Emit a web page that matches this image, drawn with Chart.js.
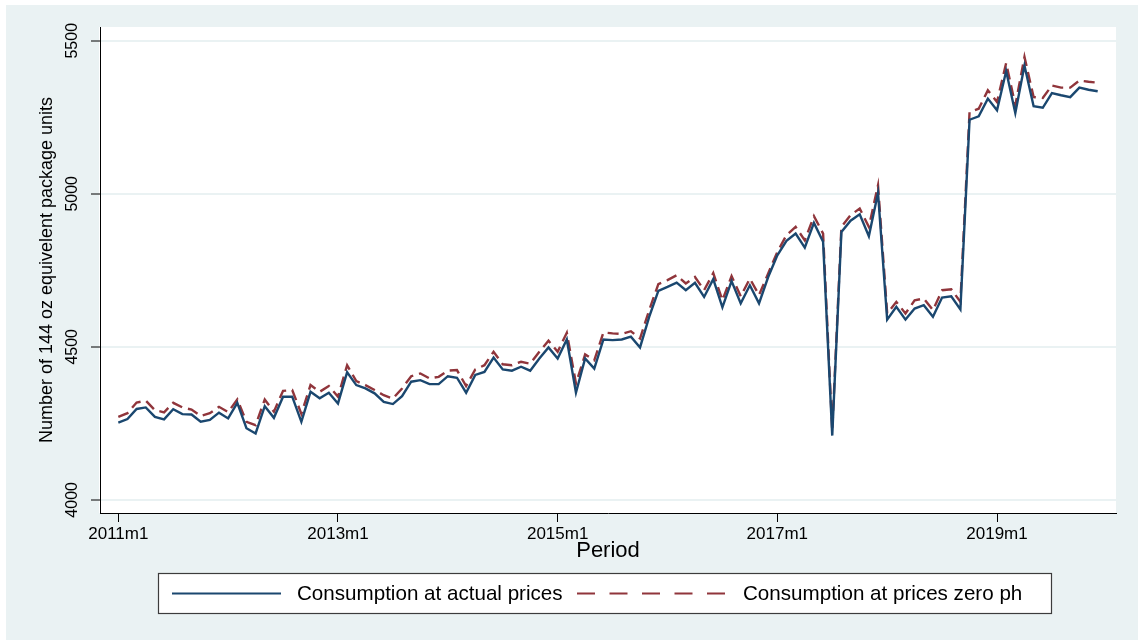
<!DOCTYPE html>
<html>
<head>
<meta charset="utf-8">
<script src="https://cdn.jsdelivr.net/npm/chart.js@4.4.0/dist/chart.umd.min.js"></script>
<style>
  html, body { margin: 0; padding: 0; background: #ffffff; }
  canvas { display: block; }
</style>
</head>
<body>
<canvas id="chart" width="1138" height="640"></canvas>
<script>
// Monthly periods 2011m1 .. 2019m12
const periods = [];
for (let yr = 2011; yr <= 2019; yr++) {
  for (let m = 1; m <= 12; m++) periods.push(yr + 'm' + m);
}
const xTickLabels = ['2011m1', '2013m1', '2015m1', '2017m1', '2019m1'];
const yTickValues = [4000, 4500, 5000, 5500];

// Consumption at actual prices
const actualPrices = [
  4252, 4264, 4297, 4302, 4271, 4263, 4296, 4280, 4279, 4255, 4261, 4285,
  4266, 4317, 4234, 4217, 4306, 4268, 4337, 4337, 4255, 4353, 4332, 4350,
  4315, 4417, 4375, 4364, 4348, 4320, 4313, 4339, 4386, 4391, 4378, 4378,
  4404, 4399, 4350, 4408, 4418, 4465, 4426, 4422, 4435, 4422, 4462, 4498,
  4462, 4524, 4350, 4462, 4429, 4524, 4522, 4524, 4533, 4498, 4598, 4683,
  4696, 4710, 4685, 4709, 4663, 4721, 4629, 4715, 4642, 4701, 4642, 4728,
  4799, 4846, 4870, 4824, 4905, 4843, 4210, 4875, 4912, 4933, 4861, 5003,
  4589, 4631, 4589, 4625, 4636, 4598, 4661, 4665, 4622, 5242, 5253, 5311,
  5273, 5401, 5264, 5419, 5286, 5281, 5329, 5322, 5316, 5347, 5340, 5335
];

// Consumption at prices zero ph
const zeroPhPrices = [
  4271, 4283, 4318, 4324, 4293, 4286, 4317, 4302, 4295, 4274, 4283, 4304,
  4287, 4328, 4255, 4244, 4328, 4288, 4356, 4359, 4281, 4375, 4353, 4372,
  4337, 4440, 4388, 4375, 4359, 4342, 4331, 4364, 4404, 4413, 4397, 4402,
  4422, 4424, 4372, 4426, 4440, 4484, 4443, 4440, 4451, 4445, 4484, 4520,
  4484, 4546, 4380, 4475, 4456, 4547, 4544, 4542, 4551, 4527, 4620, 4705,
  4718, 4734, 4707, 4728, 4685, 4741, 4652, 4731, 4665, 4723, 4669, 4740,
  4810, 4865, 4892, 4848, 4927, 4870, 4225, 4892, 4930, 4952, 4892, 5028,
  4609, 4647, 4609, 4652, 4658, 4620, 4685, 4688, 4647, 5267, 5278, 5338,
  5300, 5427, 5289, 5447, 5316, 5313, 5354, 5347, 5347, 5370, 5366, 5363
];

const seriesNames = ['Consumption at actual prices', 'Consumption at prices zero ph'];

const NAVY = '#1a476f';
const MAROON = '#90353b';
const PANEL = '#eaf2f3';
const FONT = "'Liberation Sans', Arial, sans-serif";

Chart.defaults.font.family = FONT;
Chart.defaults.color = '#000000';

// Background panel, white plot region and the boxed legend
const framePlugin = {
  id: 'frame',
  beforeDraw(chart) {
    const { ctx, chartArea: a, width, height } = chart;
    ctx.save();
    ctx.fillStyle = '#ffffff';
    ctx.fillRect(0, 0, width, height);
    ctx.fillStyle = PANEL;
    ctx.fillRect(6, 5, width - 6, height - 5);
    ctx.fillStyle = '#ffffff';
    ctx.fillRect(a.left - 1, a.top, a.right - a.left + 1, a.bottom - a.top);
    ctx.restore();
  },
  afterDraw(chart) {
    const { ctx } = chart;
    const box = { x: 158.5, y: 573.5, w: 893, h: 40 };
    const cy = box.y + box.h / 2;
    ctx.save();
    ctx.fillStyle = '#ffffff';
    ctx.fillRect(box.x, box.y, box.w, box.h);
    ctx.strokeStyle = '#3c3c3c';
    ctx.lineWidth = 1.2;
    ctx.strokeRect(box.x, box.y, box.w, box.h);

    const items = [
      { x0: 172, x1: 281, tx: 297, ds: chart.data.datasets[0], dash: [] },
      { x0: 577, x1: 725, tx: 743, ds: chart.data.datasets[1], dash: [18, 14.5] }
    ];
    items.forEach(it => {
      ctx.beginPath();
      ctx.setLineDash(it.dash);
      ctx.strokeStyle = it.ds.borderColor;
      ctx.lineWidth = 2;
      ctx.moveTo(it.x0, cy);
      ctx.lineTo(it.x1, cy);
      ctx.stroke();
      ctx.setLineDash([]);
      ctx.fillStyle = '#000000';
      ctx.font = '20.6px ' + FONT;
      ctx.textAlign = 'left';
      ctx.textBaseline = 'middle';
      ctx.fillText(it.ds.label, it.tx, cy + 1);
    });
    ctx.restore();
  }
};

new Chart(document.getElementById('chart'), {
  type: 'line',
  data: {
    datasets: [
      {
        label: seriesNames[0],
        data: actualPrices.map((v, i) => ({ x: i, y: v })),
        borderColor: NAVY,
        borderWidth: 2.4,
        pointRadius: 0,
        tension: 0,
        fill: false,
        order: 1
      },
      {
        label: seriesNames[1],
        data: zeroPhPrices.map((v, i) => ({ x: i, y: v })),
        borderColor: MAROON,
        borderWidth: 2.4,
        borderDash: [11, 6],
        pointRadius: 0,
        tension: 0,
        fill: false,
        order: 2
      }
    ]
  },
  options: {
    responsive: false,
    animation: false,
    events: [],
    layout: { padding: { left: 0, top: 27, right: 22, bottom: 67 } },
    plugins: {
      legend: { display: false },
      tooltip: { enabled: false }
    },
    scales: {
      x: {
        type: 'linear',
        min: -2,
        max: 109,
        afterBuildTicks(scale) {
          scale.ticks = xTickLabels.map(p => ({ value: periods.indexOf(p) }));
        },
        afterFit(scale) { scale.height = 60; },
        ticks: {
          autoSkip: false,
          minRotation: 0,
          maxRotation: 0,
          padding: 2,
          color: '#000000',
          font: { size: 17 },
          callback: v => periods[v]
        },
        grid: {
          drawOnChartArea: false,
          drawTicks: true,
          tickLength: 9,
          tickColor: '#000000',
          tickWidth: 1
        },
        border: { display: true, color: '#000000', width: 1 },
        title: {
          display: true,
          text: 'Period',
          color: '#000000',
          font: { size: 22 },
          padding: { top: 0, bottom: 9 }
        }
      },
      y: {
        type: 'linear',
        min: 3957,
        max: 5545,
        afterBuildTicks(scale) {
          scale.ticks = yTickValues.map(v => ({ value: v }));
        },
        afterFit(scale) { scale.width = 100; },
        ticks: {
          minRotation: 90,
          maxRotation: 90,
          crossAlign: 'center',
          padding: 1,
          color: '#000000',
          font: { size: 16 },
          callback: v => String(v)
        },
        grid: {
          color: PANEL,
          lineWidth: 2,
          tickColor: '#000000',
          tickWidth: 1,
          tickLength: 9
        },
        border: { display: true, color: '#000000', width: 1 },
        title: {
          display: true,
          text: 'Number of 144 oz equivelent package units',
          color: '#000000',
          font: { size: 18 },
          padding: { top: 36, bottom: 0 }
        }
      }
    }
  },
  plugins: [framePlugin]
});
</script>
</body>
</html>
